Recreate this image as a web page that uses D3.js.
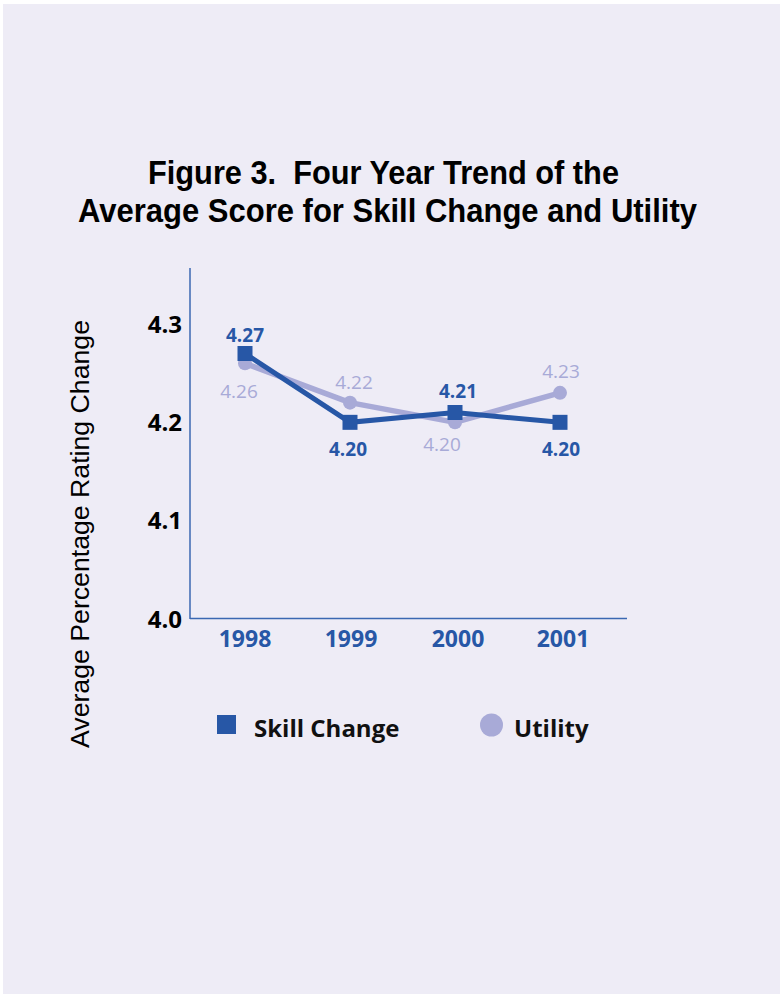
<!DOCTYPE html>
<html>
<head>
<meta charset="utf-8">
<script src="https://cdn.jsdelivr.net/npm/d3@7"></script>
<style>
  html, body { margin: 0; padding: 0; background: #ffffff; }
  svg { display: block; }
  .title text { white-space: pre; }
</style>
</head>
<body>
<svg id="chart" width="780" height="997"></svg>
<script>
// Four-year trend data
const years = ["1998", "1999", "2000", "2001"];
const skillChange = [4.27, 4.20, 4.21, 4.20];
const utility = [4.26, 4.22, 4.20, 4.23];
const yTicks = [4.0, 4.1, 4.2, 4.3];
const seriesNames = ["Skill Change", "Utility"];

// Label placement (dx, dy from the marker) for each point
const skillLabelOffset = [[0, -12], [-2, 34], [3, -15], [1, 34]];
const utilityLabelOffset = [[-6, 35], [4, -14], [-13, 29], [1, -15]];

const SKILL = "#2757a6";
const UTIL = "#a8aad7";
const AXIS = "#3b68b2";

const svg = d3.select("#chart");

// Panel background
svg.append("rect").attr("x", 3).attr("y", 4).attr("width", 777).attr("height", 990)
  .attr("fill", "#eeecf6");

// Title
const title = svg.append("g").attr("class", "title")
  .attr("font-family", "'Liberation Sans Narrow', 'Arial Narrow', 'Liberation Sans', Arial, sans-serif")
  .attr("font-weight", "bold").attr("font-size", 33).attr("fill", "#000");
title.append("text").attr("x", 148).attr("y", 184)
  .attr("textLength", 471).attr("lengthAdjust", "spacingAndGlyphs")
  .text("Figure 3.  Four Year Trend of the");
title.append("text").attr("x", 78).attr("y", 222)
  .attr("textLength", 619).attr("lengthAdjust", "spacingAndGlyphs")
  .text("Average Score for Skill Change and Utility");

// Scales
const x = d3.scalePoint().domain(years).range([245, 560]);
const y = d3.scaleLinear().domain([4.0, 4.3]).range([619, 324]);

// Axes lines
svg.append("line").attr("x1", 190).attr("x2", 190).attr("y1", 268).attr("y2", 619)
  .attr("stroke", AXIS).attr("stroke-width", 1.5);
svg.append("line").attr("x1", 190).attr("x2", 627).attr("y1", 618.5).attr("y2", 618.5)
  .attr("stroke", AXIS).attr("stroke-width", 1.5);

// Y tick labels
svg.append("g").selectAll("text").data(yTicks).join("text")
  .attr("x", 182).attr("y", d => y(d)).attr("dy", "0.36em")
  .attr("text-anchor", "end")
  .attr("font-family", "'Open Sans', 'Noto Sans', sans-serif")
  .attr("font-weight", "bold").attr("font-size", 24).attr("fill", "#000")
  .text(d => d3.format(".1f")(d));

// X tick labels
svg.append("g").selectAll("text").data(years).join("text")
  .attr("x", (d, i) => x(d) + [0, 1, 3, 3][i]).attr("y", 647)
  .attr("text-anchor", "middle")
  .attr("font-family", "'Open Sans', 'Noto Sans', sans-serif")
  .attr("font-weight", "bold").attr("font-size", 23).attr("fill", SKILL)
  .text(d => d);

// Y axis title
svg.append("text")
  .attr("transform", "translate(89,534) rotate(-90)")
  .attr("text-anchor", "middle")
  .attr("textLength", 428).attr("lengthAdjust", "spacingAndGlyphs")
  .attr("font-family", "'Liberation Sans', Arial, sans-serif")
  .attr("font-size", 26).attr("fill", "#000")
  .text("Average Percentage Rating Change");

const line = d3.line().x((d, i) => x(years[i])).y(d => y(d));

// Utility series
svg.append("path").datum(utility).attr("d", line)
  .attr("fill", "none").attr("stroke", UTIL).attr("stroke-width", 5.5)
  .attr("stroke-linejoin", "round");
svg.append("g").selectAll("circle").data(utility).join("circle")
  .attr("cx", (d, i) => x(years[i])).attr("cy", d => y(d)).attr("r", 7)
  .attr("fill", UTIL);

// Skill Change series
svg.append("path").datum(skillChange).attr("d", line)
  .attr("fill", "none").attr("stroke", SKILL).attr("stroke-width", 5)
  .attr("stroke-linejoin", "miter");
svg.append("g").selectAll("rect").data(skillChange).join("rect")
  .attr("x", (d, i) => x(years[i]) - 7.5).attr("y", d => y(d) - 7.5)
  .attr("width", 15).attr("height", 15).attr("fill", SKILL);

// Value labels
svg.append("g").selectAll("text").data(utility).join("text")
  .attr("x", (d, i) => x(years[i]) + utilityLabelOffset[i][0])
  .attr("y", (d, i) => y(d) + utilityLabelOffset[i][1])
  .attr("text-anchor", "middle")
  .attr("font-family", "'Open Sans', 'Noto Sans', sans-serif")
  .attr("font-size", 19).attr("fill", UTIL)
  .text(d => d3.format(".2f")(d));
svg.append("g").selectAll("text").data(skillChange).join("text")
  .attr("x", (d, i) => x(years[i]) + skillLabelOffset[i][0])
  .attr("y", (d, i) => y(d) + skillLabelOffset[i][1])
  .attr("text-anchor", "middle")
  .attr("font-family", "'Open Sans', 'Noto Sans', sans-serif")
  .attr("font-weight", "bold").attr("font-size", 19).attr("fill", SKILL)
  .text(d => d3.format(".2f")(d));

// Legend
const legend = svg.append("g")
  .attr("font-family", "'Open Sans', 'Noto Sans', sans-serif")
  .attr("font-weight", "bold").attr("font-size", 24).attr("fill", "#111");
legend.append("rect").attr("x", 217).attr("y", 715).attr("width", 19).attr("height", 19)
  .attr("fill", SKILL);
legend.append("text").attr("x", 254).attr("y", 737).text(seriesNames[0]);
legend.append("circle").attr("cx", 491.5).attr("cy", 725).attr("r", 11.5).attr("fill", UTIL);
legend.append("text").attr("x", 514).attr("y", 737).text(seriesNames[1]);
</script>
</body>
</html>
